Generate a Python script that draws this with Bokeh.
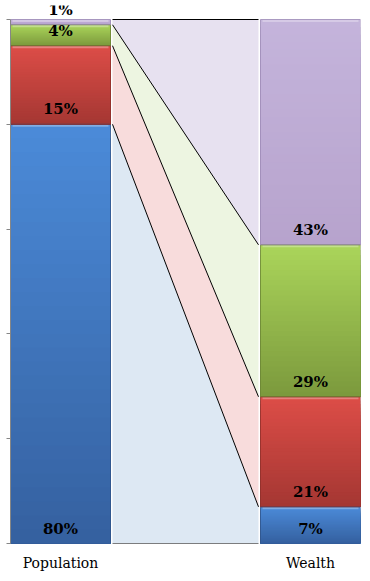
from bokeh.plotting import figure
from bokeh.models import Range1d, FixedTicker
from bokeh.core.properties import value
from bokeh.embed import file_html
from bokeh.resources import INLINE

# ---- data ----
groups = ["Population", "Wealth"]
tiers = ["Bottom 80%", "Next 15%", "Next 4%", "Top 1%"]
population = [80, 15, 4, 1]
wealth = [7, 21, 29, 43]
pop_labels = ["80%", "15%", "4%", "1%"]
wealth_labels = ["7%", "21%", "29%", "43%"]
y_ticks = [0, 20, 40, 60, 80, 100]

# ---- styles ----
grad_top = ["#4b8ad8", "#dc4d47", "#aad45a", "#c4b4db"]
grad_bottom = ["#3561a0", "#a53733", "#7c9a3d", "#b7a3cd"]
edge_colors = ["#2f5489", "#8e2f2b", "#6a8434", "#9c89b5"]
link_colors = ["#dde8f3", "#f8dcdc", "#edf5e1", "#e7e1f0"]

BAR_W = 2.0
POP_X = 1.0
WEALTH_X = 6.0
GAP = 0.04
N_BANDS = 30
PX = 100 / 524.0          # data units per pixel (vertical)
LABEL_LIFT = 15 * PX


def hex2rgb(h):
    h = h.lstrip("#")
    return tuple(int(h[i:i + 2], 16) for i in (0, 2, 4))


def mix(c1, c2, t):
    a, b = hex2rgb(c1), hex2rgb(c2)
    return "#%02x%02x%02x" % tuple(round(a[k] + (b[k] - a[k]) * t) for k in range(3))


def cumulative(vals):
    out, s = [0], 0
    for v in vals:
        s += v
        out.append(s)
    return out


pop_cum = cumulative(population)
wealth_cum = cumulative(wealth)

p = figure(width=370, height=581, output_backend="svg", toolbar_location=None,
           x_range=Range1d(0, 7), y_range=Range1d(0, 100 + 14 * PX),
           min_border_left=10, min_border_right=10, min_border_top=5, min_border_bottom=38)
p.outline_line_color = None
p.xgrid.grid_line_color = None
p.ygrid.grid_line_color = None
p.background_fill_color = "white"
p.border_fill_color = "white"

# ---- connectors ----
lx = POP_X + BAR_W / 2 + GAP
rx = WEALTH_X - BAR_W / 2 - GAP
xs, ys = [], []
for i in range(len(tiers)):
    xs.append([lx, rx, rx, lx])
    ys.append([pop_cum[i], wealth_cum[i], wealth_cum[i + 1], pop_cum[i + 1]])
p.patches(xs, ys, fill_color=link_colors, line_color=None)
p.segment(x0=[lx] * len(pop_cum), y0=pop_cum, x1=[rx] * len(wealth_cum), y1=wealth_cum,
          line_color="black", line_width=1)

# ---- stacked bars with vertical gradient ----
for cx, vals, cum in ((POP_X, population, pop_cum), (WEALTH_X, wealth, wealth_cum)):
    L, R, B, T, C = [], [], [], [], []
    for i, v in enumerate(vals):
        lo, hi = cum[i], cum[i + 1]
        for k in range(N_BANDS):
            L.append(cx - BAR_W / 2)
            R.append(cx + BAR_W / 2)
            T.append(hi - (hi - lo) * k / N_BANDS)
            B.append(lo)
            C.append(mix(grad_top[i], grad_bottom[i], k / (N_BANDS - 1)))
    p.quad(left=L, right=R, bottom=B, top=T, fill_color=C, line_color=None)
    p.quad(left=[cx - BAR_W / 2] * len(vals), right=[cx + BAR_W / 2] * len(vals),
           bottom=cum[:-1], top=cum[1:], fill_color=None, line_color=edge_colors,
           line_width=1, line_alpha=0.8)
    # top highlight (bevel)
    p.quad(left=[cx - BAR_W / 2 + 0.04] * len(vals), right=[cx + BAR_W / 2 - 0.04] * len(vals),
           bottom=[c - 2.5 * PX for c in cum[1:]], top=[c - 0.6 * PX for c in cum[1:]],
           fill_color="white", fill_alpha=0.3, line_color=None)

# ---- value labels ----
for cx, cum, labs in ((POP_X, pop_cum, pop_labels), (WEALTH_X, wealth_cum, wealth_labels)):
    p.text(x=[cx] * len(labs), y=[c + LABEL_LIFT for c in cum[:-1]], text=labs,
           text_align="center", text_baseline="alphabetic",
           text_font=value("DejaVu Serif"), text_font_style="bold",
           text_font_size="15px", text_color="black")

# ---- axes ----
p.xaxis.ticker = FixedTicker(ticks=[POP_X, WEALTH_X])
p.xaxis.major_label_overrides = {int(POP_X): groups[0], int(WEALTH_X): groups[1]}
p.xaxis.axis_line_color = None
p.xaxis.major_tick_line_color = None
p.xaxis.minor_tick_line_color = None
p.xaxis.major_label_standoff = 5
p.xaxis.major_label_text_font = "DejaVu Serif"
p.xaxis.major_label_text_font_size = "14px"
p.xaxis.major_label_text_color = "black"

p.yaxis.ticker = FixedTicker(ticks=y_ticks)
p.yaxis.bounds = (0, 100)
p.yaxis.major_label_overrides = {t: "" for t in y_ticks}
p.yaxis.major_label_standoff = 0
p.yaxis.axis_line_color = "#868686"
p.yaxis.major_tick_line_color = "#868686"
p.yaxis.major_tick_in = 0
p.yaxis.major_tick_out = 4
p.yaxis.minor_tick_line_color = None

open("out.html", "w").write(file_html(p, INLINE))
